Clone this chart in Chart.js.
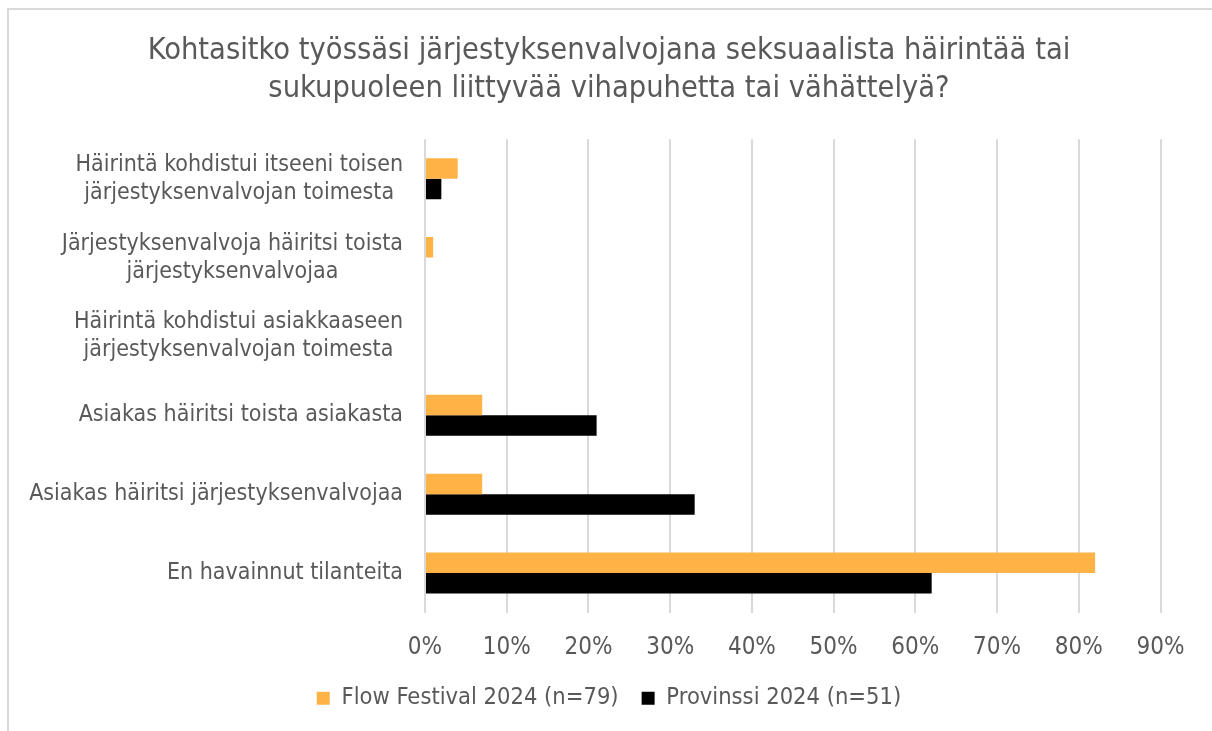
<!DOCTYPE html>
<html>
<head>
<meta charset="utf-8">
<script src="https://cdn.jsdelivr.net/npm/chart.js@4.4.1/dist/chart.umd.min.js"></script>
<style>
  html, body { margin: 0; padding: 0; overflow: hidden; background: #fff; }
  #frame { position: absolute; left: 7px; top: 8px; width: 1300px; height: 800px; border: 2px solid #d9d9d9; }
  #chart { position: absolute; left: 0; top: 0; }
</style>
</head>
<body>
<div id="frame"></div>
<canvas id="chart" width="1212" height="731"></canvas>
<script>
// kategoriat ylhäältä alas (rivitetty kuten alkuperäisessä)
const categories = [
    ['Häirintä kohdistui itseeni toisen', 'järjestyksenvalvojan toimesta'],
    ['Järjestyksenvalvoja häiritsi toista', 'järjestyksenvalvojaa'],
    ['Häirintä kohdistui asiakkaaseen', 'järjestyksenvalvojan toimesta'],
    ['Asiakas häiritsi toista asiakasta'],
    ['Asiakas häiritsi järjestyksenvalvojaa'],
    ['En havainnut tilanteita']
];
const flowValues = [4, 1, 0, 7, 7, 82];
const provinssiValues = [2, 0, 0, 21, 33, 62];
const tickLabels = ['0%', '10%', '20%', '30%', '40%', '50%', '60%', '70%', '80%', '90%'];
const seriesNames = ['Flow Festival 2024 (n=79)', 'Provinssi 2024 (n=51)'];

const textColor = '#595959';
const fontFamily = '"DejaVu Sans Condensed", "DejaVu Sans", sans-serif';

// monirivisten selitteiden rivit keskitetään keskenään, lohko oikealle
const categoryLabels = {
    id: 'categoryLabels',
    afterDraw(chart) {
        const yScale = chart.scales.y;
        const c = chart.ctx;
        const right = yScale.right - 22;
        c.save();
        c.font = '23px ' + fontFamily;
        c.fillStyle = textColor;
        c.textAlign = 'center';
        c.textBaseline = 'middle';
        categories.forEach((lines, i) => {
            const y = yScale.getPixelForTick(i);
            const w = Math.max(...lines.map(l => c.measureText(l).width));
            const cx = right - w / 2;
            lines.forEach((line, j) => {
                c.fillText(line, cx, y + (j - (lines.length - 1) / 2) * 28);
            });
        });
        c.restore();
    }
};

const ctx = document.getElementById('chart').getContext('2d');
new Chart(ctx, {
    type: 'bar',
    data: {
        labels: categories,
        datasets: [{
            label: seriesNames[0],
            data: flowValues,
            backgroundColor: '#FFB347',
            borderWidth: 0
        }, {
            label: seriesNames[1],
            data: provinssiValues,
            backgroundColor: '#000000',
            borderWidth: 0
        }]
    },
    options: {
        indexAxis: 'y',
        responsive: false,
        animation: false,
        devicePixelRatio: 1,
        categoryPercentage: 0.52,
        barPercentage: 1,
        layout: { padding: { left: 33, right: 27, top: 0, bottom: 11 } },
        scales: {
            x: {
                min: 0,
                max: 90,
                ticks: {
                    stepSize: 10,
                    padding: 21,
                    color: textColor,
                    font: { family: fontFamily, size: 24 },
                    callback: (v, i) => tickLabels[i]
                },
                grid: { color: '#d9d9d9', lineWidth: 2, drawTicks: false },
                border: { display: false },
                afterFit: s => { s.height = 51; }
            },
            y: {
                ticks: { display: false },
                grid: { display: false },
                border: { display: false },
                afterFit: s => { s.width = 392; }
            },
            y2: {
                type: 'category',
                position: 'right',
                ticks: { display: false },
                grid: { display: false },
                border: { display: false },
                afterFit: s => { s.width = 24.5; }
            }
        },
        plugins: {
            title: {
                display: true,
                text: ['Kohtasitko työssäsi järjestyksenvalvojana seksuaalista häirintää tai',
                       'sukupuoleen liittyvää vihapuhetta tai vähättelyä?'],
                color: textColor,
                font: { family: fontFamily, size: 30.5, weight: 'normal', lineHeight: 1.25 },
                padding: { top: 32, bottom: 31 }
            },
            legend: {
                position: 'bottom',
                labels: {
                    color: textColor,
                    font: { family: fontFamily, size: 23.5 },
                    boxWidth: 13,
                    boxHeight: 13,
                    padding: 23
                }
            },
            tooltip: { enabled: false }
        }
    },
    plugins: [categoryLabels]
});
</script>
</body>
</html>
